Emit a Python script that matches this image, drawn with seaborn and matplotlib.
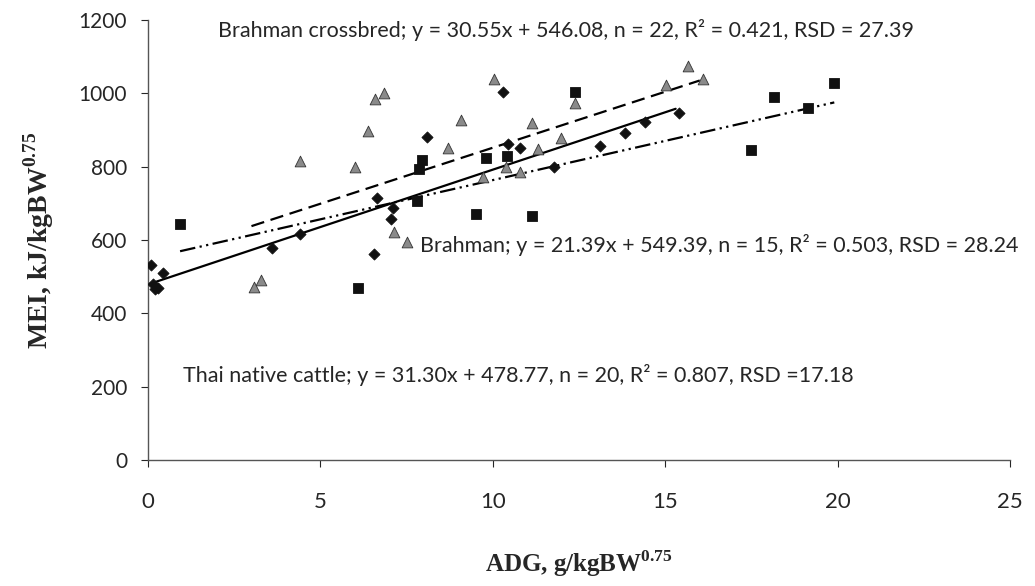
import numpy as np
import pandas as pd
import matplotlib
matplotlib.use("Agg")
import matplotlib.pyplot as plt
import seaborn as sns

# ---- data ----
thai_x = [0.10, 0.43, 0.15, 0.20, 0.30, 3.6, 4.4, 6.55, 8.1, 6.63, 7.1, 7.05,
          10.28, 10.45, 10.8, 11.76, 13.1, 13.84, 14.4, 15.4]
thai_y = [532, 509, 480, 465, 470, 579, 616, 562, 882, 714, 688, 656,
          1003, 861, 852, 798, 855, 891, 921, 945]

brah_x = [0.93, 7.95, 7.86, 7.79, 6.1, 9.8, 10.4, 9.5, 11.13, 12.37,
          19.9, 18.16, 19.13, 17.48]
brah_y = [643, 818, 793, 706, 470, 824, 829, 671, 665, 1003,
          1027, 989, 961, 845]

cross_x = [6.84, 6.58, 6.39, 4.4, 6.0, 7.13, 7.52, 3.06, 3.28, 10.04, 9.07,
           8.7, 11.13, 11.98, 11.3, 10.38, 10.8, 9.7, 15.66, 16.1, 15.03, 12.38]
cross_y = [1000, 984, 898, 814, 800, 621, 595, 471, 491, 1039, 927,
           852, 920, 877, 847, 800, 785, 771, 1075, 1039, 1023, 974]

groups = ["Thai native cattle", "Brahman", "Brahman crossbred"]
slopes = [31.30, 21.39, 30.55]
intercepts = [478.77, 549.39, 546.08]
line_ranges = [(0.0, 15.3), (0.93, 19.9), (3.0, 16.0)]
annotations = [
    "Thai native cattle; y = 31.30x + 478.77, n = 20, R\u00b2 = 0.807, RSD =17.18",
    "Brahman; y = 21.39x + 549.39, n = 15, R\u00b2 = 0.503, RSD = 28.24",
    "Brahman crossbred; y = 30.55x + 546.08, n = 22, R\u00b2 = 0.421, RSD = 27.39",
]
x_ticks = [0, 5, 10, 15, 20, 25]
y_ticks = [0, 200, 400, 600, 800, 1000, 1200]

df = pd.DataFrame({
    "ADG": thai_x + brah_x + cross_x,
    "MEI": thai_y + brah_y + cross_y,
    "group": [groups[0]] * len(thai_x) + [groups[1]] * len(brah_x) + [groups[2]] * len(cross_x),
})

# ---- style ----
sns.set_theme(style="white")
plt.rcParams["font.family"] = ["Lato", "DejaVu Sans"]
plt.rcParams["mathtext.fontset"] = "custom"
plt.rcParams["mathtext.rm"] = "Liberation Serif:bold"
plt.rcParams["mathtext.bf"] = "Liberation Serif:bold"

fig = plt.figure(figsize=(10.35, 5.86), dpi=100)
ax = fig.add_axes([0.143, 0.215, 0.833, 0.751])

palette = {groups[0]: "#111111", groups[1]: "#111111", groups[2]: "#8a8a8a"}
markers = {groups[0]: "D", groups[1]: "s", groups[2]: "^"}
sizes = {groups[0]: 32, groups[1]: 60, groups[2]: 60}

for g in groups:
    sub = df[df["group"] == g]
    sns.scatterplot(data=sub, x="ADG", y="MEI", color=palette[g], marker=markers[g],
                    s=sizes[g], edgecolor="#333333" if g == groups[2] else palette[g],
                    linewidth=0.6, ax=ax, legend=False, zorder=3)

styles = ["-", (0, (7, 2, 1, 2, 1, 2)), (0, (6, 3))]
for g, m, b, (x0, x1), ls in zip(groups, slopes, intercepts, line_ranges, styles):
    xs = np.array([x0, x1])
    ax.plot(xs, m * xs + b, color="black", linestyle=ls, linewidth=1.6, zorder=2)

ax.text(1.02, 232, annotations[0], fontsize=15.5, va="center", ha="left")
ax.text(7.9, 586, annotations[1], fontsize=15.5, va="center", ha="left")
ax.text(2.03, 1173, annotations[2], fontsize=15.5, va="center", ha="left")

ax.set_xlim(0, 25)
ax.set_ylim(0, 1200)
ax.set_xticks(x_ticks)
ax.set_yticks(y_ticks)
ax.tick_params(axis="x", labelsize=16, pad=18, direction="out", length=5, width=0.8, bottom=True)
ax.tick_params(axis="y", labelsize=15, pad=10, direction="out", length=5, width=0.8, left=True)
for s in ["top", "right"]:
    ax.spines[s].set_visible(False)
for s in ["left", "bottom"]:
    ax.spines[s].set_color("#555555")
    ax.spines[s].set_linewidth(1.0)

ax.set_xlabel(r"ADG, g/kgBW$^{0.75}$", fontsize=18, family="Liberation Serif",
              fontweight="bold", labelpad=26)
ax.set_ylabel(r"MEI, kJ/kgBW$^{0.75}$", fontsize=20, family="Liberation Serif",
              fontweight="bold", labelpad=16)

fig.savefig("out.png", dpi=100)
